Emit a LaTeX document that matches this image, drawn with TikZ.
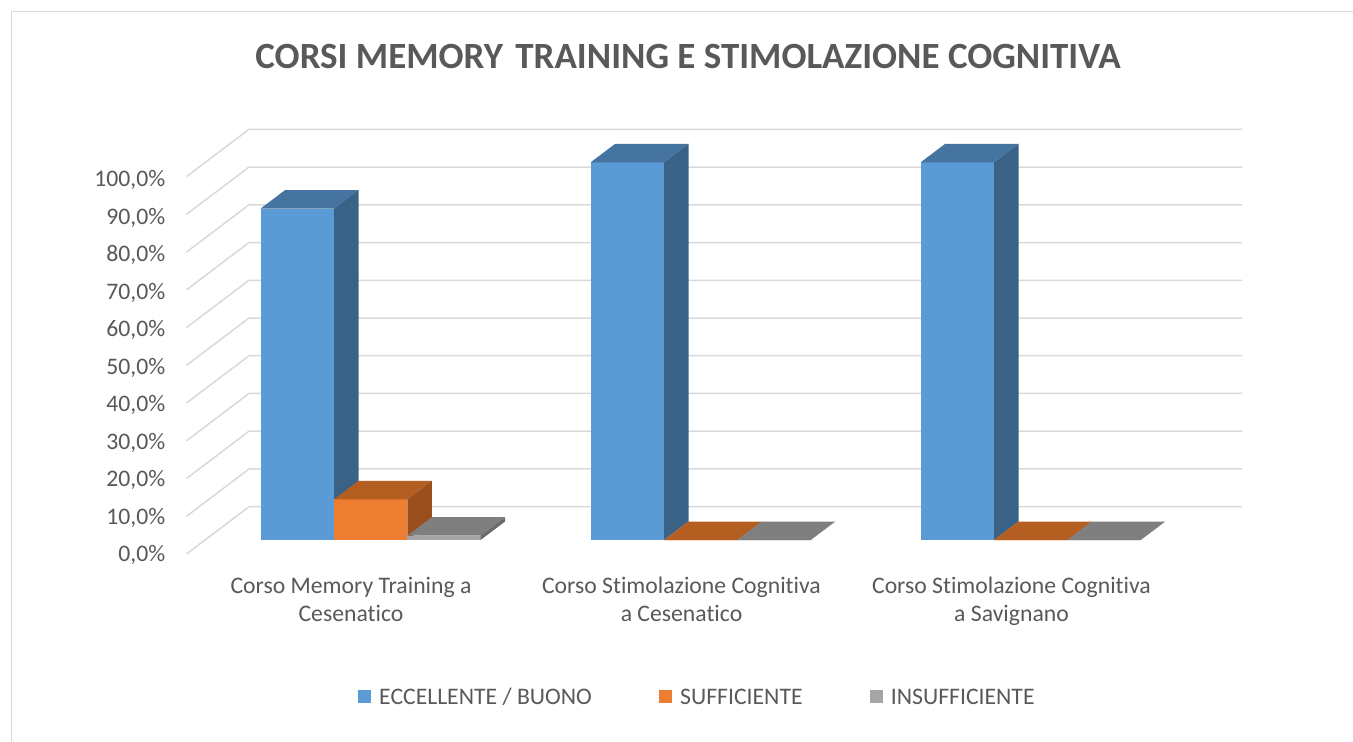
\documentclass[tikz,border=0pt]{standalone}
\usepackage{fontspec}
\setmainfont{Carlito}[Ligatures=NoCommon]
\definecolor{txt}{HTML}{595959}
\definecolor{gridc}{HTML}{D9D9D9}
\definecolor{bfront}{HTML}{5B9BD5}
\definecolor{btop}{HTML}{44749F}
\definecolor{bside}{HTML}{3A6287}
\definecolor{ofront}{HTML}{ED7D31}
\definecolor{otop}{HTML}{B55E22}
\definecolor{oside}{HTML}{9A4F1C}
\definecolor{gfront}{HTML}{A5A5A5}
\definecolor{gtop}{HTML}{7F7F7F}
\definecolor{gside}{HTML}{6B6B6B}
\newcommand\barbox[5]{%
  \fill[#3] (#1,540) rectangle ++(73.3,-#2);
  \fill[#4] (#1,540-#2) -- ++(73.3,0) -- ++(24.5,-18.5) -- ++(-73.3,0) -- cycle;
  \fill[#5] (#1+73.3,540) -- ++(0,-#2) -- ++(24.5,-18.5) -- ++(0,#2) -- cycle;
}
\tikzset{
  gridline/.style={draw=gridc, line width=1.5pt},
  lbl/.style={text=txt, inner sep=0pt, font=\fontsize{23.7}{28}\selectfont},
  ttl/.style={text=txt, inner sep=0pt, font=\fontsize{37}{40}\selectfont\bfseries},
}
\begin{document}
\begin{tikzpicture}[x=1pt,y=-1pt]
\useasboundingbox (0,0) rectangle (1353,742);
\fill[white] (0,0) rectangle (1353,742);
\draw[draw=gridc, line width=1.5pt] (11.5,760) -- (11.5,11.5) -- (1370,11.5);
% title
\node[ttl, anchor=base] (title) at (688,68.3) {CORSI MEMORY\hspace{4pt} TRAINING E STIMOLAZIONE COGNITIVA};
% gridlines
\foreach \k in {0,...,10} {
  \draw[gridline] (186.5,554-\k*37.74) -- (249,506.7-\k*37.74) -- (1242,506.7-\k*37.74);
  \pgfmathtruncatemacro\v{\k*10}
  \node[lbl, anchor=base east] (y\k) at (165.5,561.7-\k*37.5) {\v,0\%};
}
% bars cluster 1
\barbox{260.7}{331.5}{bfront}{btop}{bside}
\barbox{334.0}{40.7}{ofront}{otop}{oside}
\barbox{407.3}{4.3}{gfront}{gtop}{gside}
% cluster 2
\barbox{590.7}{377.7}{bfront}{btop}{bside}
\barbox{664.0}{0}{ofront}{otop}{oside}
\barbox{737.3}{0}{gfront}{gtop}{gside}
% cluster 3
\barbox{920.7}{377.7}{bfront}{btop}{bside}
\barbox{994.0}{0}{ofront}{otop}{oside}
\barbox{1067.3}{0}{gfront}{gtop}{gside}
% category labels
\node[lbl, anchor=base, align=center] (c1) at (351,621) {Corso Memory Training a\\Cesenatico};
\node[lbl, anchor=base, align=center] (c2) at (681.5,621) {Corso Stimolazione Cognitiva\\a Cesenatico};
\node[lbl, anchor=base, align=center] (c3) at (1011.5,621) {Corso Stimolazione Cognitiva\\a Savignano};
% legend
\fill[bfront] (358,690) rectangle (371,703);
\node[lbl, anchor=base west] (l1) at (379,704.3) {ECCELLENTE / BUONO};
\fill[ofront] (659,690) rectangle (672,703);
\node[lbl, anchor=base west] (l2) at (680,704.3) {SUFFICIENTE};
\fill[gfront] (870,690) rectangle (883,703);
\node[lbl, anchor=base west] (l3) at (890.7,704.3) {INSUFFICIENTE};
\end{tikzpicture}
\end{document}
